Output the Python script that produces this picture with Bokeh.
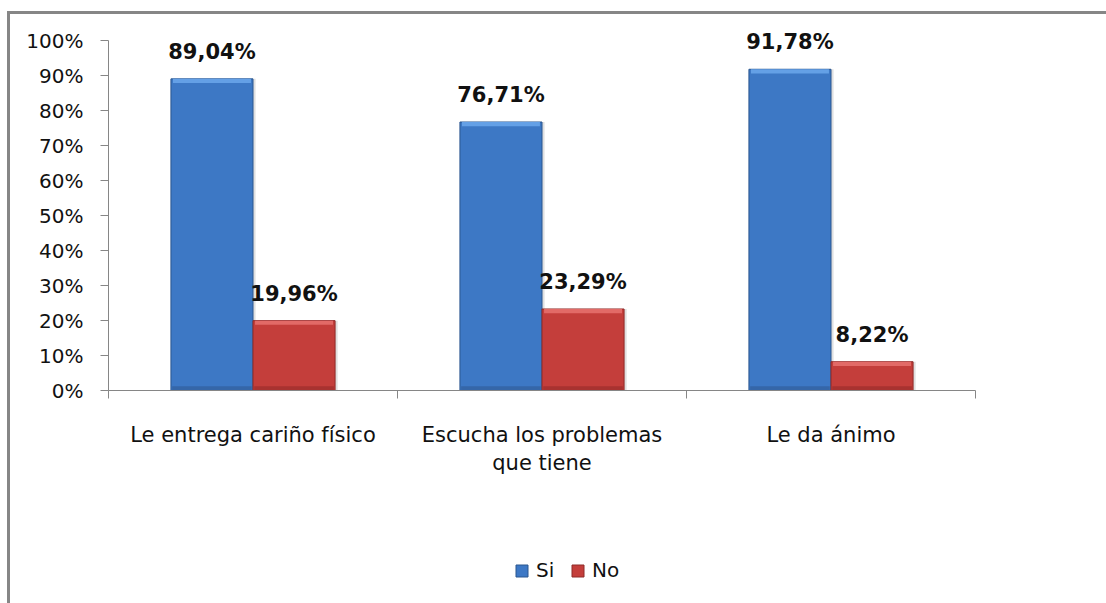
from bokeh.plotting import figure
from bokeh.layouts import column
from bokeh.models import Range1d, FixedTicker, Legend, LegendItem, ColumnDataSource, LabelSet
from bokeh.core.properties import value
from bokeh.embed import file_html
from bokeh.resources import INLINE

categories = ["Le entrega cariño físico", "Escucha los problemas\nque tiene", "Le da ánimo"]
si = [89.04, 76.71, 91.78]
no = [19.96, 23.29, 8.22]
y_ticks = [0, 10, 20, 30, 40, 50, 60, 70, 80, 90, 100]
series = ["Si", "No"]
colors = ["#3D78C5", "#C43E3B"]
edge_colors = ["#2A568F", "#8E2A28"]
bevel_colors = ["#64A0E6", "#E26A67"]
base_colors = ["#3566A8", "#A83230"]

FONT = "DejaVu Sans"
BW = 0.284
n = len(categories)
x_si = [i + 0.5 - BW / 2 for i in range(n)]
x_no = [i + 0.5 + BW / 2 for i in range(n)]

def fmt(v):
    return f"{v:.2f}".replace(".", ",") + "%"

p = figure(width=1096, height=526, output_backend="svg", toolbar_location=None,
           x_range=Range1d(0, n), y_range=Range1d(0, 106),
           min_border_left=98, min_border_top=5, min_border_right=131, min_border_bottom=150)
p.outline_line_color = None
p.grid.visible = False
p.background_fill_color = "white"
p.border_fill_color = "white"

srcs = []
for xs, vals in ((x_si, si), (x_no, no)):
    srcs.append(ColumnDataSource(dict(x=xs, top=vals, lab=[fmt(v) for v in vals],
                                      bev=[v - 1.2 for v in vals],
                                      xs=[x + 0.009 for x in xs])))

# soft shadow
for src in srcs:
    p.vbar(x="xs", top="top", bottom=0, width=BW, source=src,
           fill_color="#000000", fill_alpha=0.12, line_color=None)

for k, src in enumerate(srcs):
    p.vbar(x="x", top="top", bottom=0, width=BW, source=src,
           fill_color=colors[k], line_color=edge_colors[k], line_width=1)
    p.vbar(x="x", top=1.2, bottom=0, width=BW * 0.97, source=src,
           fill_color=base_colors[k], line_color=None)
    p.vbar(x="x", top="top", bottom="bev", width=BW * 0.95, source=src,
           fill_color=bevel_colors[k], line_color=None)
    p.add_layout(LabelSet(x="x", y="top", text="lab", source=src, text_align="center",
                          text_baseline="bottom", y_offset=15,
                          text_font=value(FONT), text_font_size="21px",
                          text_font_style="bold", text_color="#111111"))

ya = p.yaxis[0]
ya.ticker = FixedTicker(ticks=y_ticks)
ya.bounds = (0, 100)
ya.major_label_overrides = {t: f"{t}%" for t in y_ticks}
ya.major_tick_out = 8
ya.major_tick_in = 0
ya.minor_tick_out = 0
ya.minor_tick_in = 0
ya.axis_line_color = "#868686"
ya.major_tick_line_color = "#868686"
ya.major_label_text_font = FONT
ya.major_label_text_font_size = "20px"
ya.major_label_text_color = "#111111"
ya.major_label_standoff = 17

xa = p.xaxis[0]
xa.ticker = FixedTicker(ticks=[i + 0.5 for i in range(n)], minor_ticks=list(range(n + 1)))
xa.major_label_overrides = {i + 0.5: c for i, c in enumerate(categories)}
xa.major_tick_out = 0
xa.major_tick_in = 0
xa.minor_tick_out = 8
xa.minor_tick_in = 0
xa.axis_line_color = "#868686"
xa.minor_tick_line_color = "#868686"
xa.major_label_text_font = FONT
xa.major_label_text_font_size = "21px"
xa.major_label_text_color = "#111111"
xa.major_label_standoff = 24

# legend strip
p2 = figure(width=1096, height=63, output_backend="svg", toolbar_location=None,
            x_range=Range1d(0, 1), y_range=Range1d(0, 1),
            x_axis_type=None, y_axis_type=None,
            min_border_left=0, min_border_right=0, min_border_top=0, min_border_bottom=0)
p2.grid.visible = False
p2.outline_line_color = None
items = []
for name, col, ec in zip(series, colors, edge_colors):
    r = p2.vbar(x=[0.5], top=[0], bottom=[0], width=0.01, fill_color=col, line_color=ec)
    items.append(LegendItem(label=name, renderers=[r]))
legend = Legend(items=items, orientation="horizontal", location=(406, 21),
                padding=0, margin=0, spacing=14, label_standoff=7,
                glyph_width=15, glyph_height=15,
                label_text_font=FONT, label_text_font_size="20px",
                label_text_color="#111111",
                border_line_color=None, background_fill_alpha=0)
p2.add_layout(legend, "center")

layout = column(p, p2, spacing=0,
                styles={"margin-left": "7px", "margin-top": "11px",
                        "border-left": "3px solid #868686", "border-top": "3px solid #868686"})

open("out.html", "w").write(file_html(layout, INLINE))
